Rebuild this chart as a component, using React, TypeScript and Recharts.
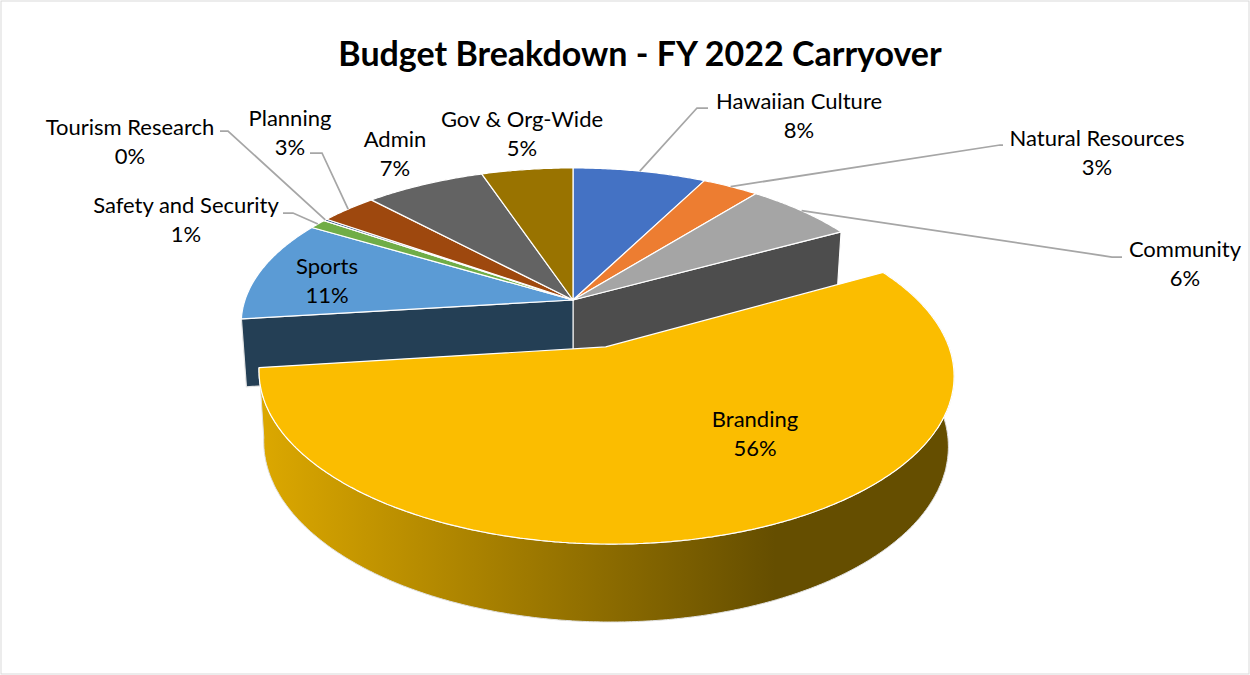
import React from "react";
import { PieChart, Pie } from "recharts";

const categories = [
  "Hawaiian Culture",
  "Natural Resources",
  "Community",
  "Branding",
  "Sports",
  "Safety and Security",
  "Tourism Research",
  "Planning",
  "Admin",
  "Gov & Org-Wide",
];
const carryoverShares = [7.5, 3.2, 6.3, 56.05, 10.55, 1.0, 0.2, 3.25, 6.8, 5.15];
const sliceColors = ["#4472c4", "#ed7d31", "#a5a5a5", "#fbbd00", "#5b9bd5", "#70ad47", "#264478", "#9e480e", "#636363", "#997300"];

const chartData = categories.map((name, i) => ({ name, value: carryoverShares[i], fill: sliceColors[i] }));

// where the text sits, by slice
const labelSpots = [
  [799, 101], [1097, 138], [1185, 249], [755, 419], [327, 266],
  [186, 205], [130, 127], [290, 118], [395, 139], [522, 119],
];
// leader line bends, from the rim outwards
const leaderBends: number[][][] = [
  [[697, 108], [708, 108]],
  [[1000, 145], [1003, 145]],
  [[1112, 257], [1122, 257]],
  [],
  [],
  [[293, 213], [283, 213]],
  [[228, 131], [220, 131]],
  [[322, 153], [310, 153]],
  [],
  [],
];

// look of the fake 3D disc
const TILT = 0.463;
const PERSPECTIVE = 0.15;
const DEPTH = 67;
const EXPLODE = 0.31;
const BOTTOM_SHRINK = 0.985;
const FONT = "Lato, sans-serif";

const explodedIndex = categories.indexOf("Branding");
const total = carryoverShares.reduce((a, b) => a + b, 0);

function place(cx: number, cy: number, r: number, gx: number, gy: number, low = false) {
  const s = 1 / (1 - PERSPECTIVE * gy);
  return [cx + r * gx * s * (low ? BOTTOM_SHRINK : 1), cy + r * TILT * gy * s + (low ? DEPTH * Math.pow(s, 0.7) : 0)];
}

// recharts angle (counter-clockwise from 3 o'clock) to a point on the ground plane
const ground = (angle: number, ox = 0, oy = 0) => {
  const a = (angle * Math.PI) / 180;
  return [Math.cos(a) + ox, -Math.sin(a) + oy];
};

const toPath = (pts: number[][]) => "M" + pts.map((p) => p[0].toFixed(1) + "," + p[1].toFixed(1)).join("L") + "Z";

function SliceShape(props: any) {
  const { cx, cy, outerRadius: r, startAngle, endAngle, fill, index, onlyExploded } = props;
  const isExploded = index === explodedIndex;
  if (isExploded !== !!onlyExploded) return <g />;

  const mid = (startAngle + endAngle) / 2;
  const [ox, oy] = isExploded ? ground(mid).map((v) => v * EXPLODE) : [0, 0];
  const steps = Math.max(2, Math.ceil(Math.abs(startAngle - endAngle) * 2));
  const rim: number[][] = [];
  const rimLow: number[][] = [];
  for (let i = 0; i <= steps; i++) {
    const [gx, gy] = ground(startAngle + ((endAngle - startAngle) * i) / steps, ox, oy);
    rim.push(place(cx, cy, r, gx, gy));
    rimLow.push(place(cx, cy, r, gx, gy, true));
  }
  const apex = place(cx, cy, r, ox, oy);
  const apexLow = place(cx, cy, r, ox, oy, true);

  const name = categories[index];
  return (
    <g>
      {name === "Community" && (
        <path d={toPath([apex, rim[steps], rimLow[steps], apexLow])} fill="#4d4d4d" stroke="#ffffff" strokeWidth={1.2} />
      )}
      {name === "Sports" && (
        <path d={toPath([apex, rim[0], rimLow[0], apexLow])} fill="#243f55" stroke="#e4e4e4" strokeWidth={1.2} />
      )}
      {isExploded && (
        <path d={toPath([...rim, ...rimLow.slice().reverse()])} fill="url(#brandingSide)" stroke="#e0e0e0" strokeWidth={1} />
      )}
      <path d={toPath([apex, ...rim])} fill={fill} stroke="#ffffff" strokeWidth={1.2} strokeLinejoin="round" />
    </g>
  );
}

function renderLabel(props: any) {
  const { index, name, value } = props;
  const [x, y] = labelSpots[index];
  return (
    <text key={index} textAnchor="middle" fontFamily={FONT} fontSize={22} fill="#000000">
      <tspan x={x} y={y + 7.5}>{name}</tspan>
      <tspan x={x} y={y + 36.5}>{Math.round((value / total) * 100)}%</tspan>
    </text>
  );
}

function renderLeader(props: any) {
  const { index, cx, cy, outerRadius, midAngle } = props;
  const bends = leaderBends[index];
  if (!bends.length) return <g key={index} />;
  const [gx, gy] = ground(midAngle);
  const start = place(cx, cy, outerRadius, gx, gy);
  const d = "M" + [start, ...bends].map((p) => p.join(",")).join("L");
  return <path key={index} d={d} fill="none" stroke="#a6a6a6" strokeWidth={1.75} />;
}

export default function App() {
  return (
    <div style={{ position: "absolute", left: 0, top: 0, width: 1250, height: 675, background: "#ffffff" }}>
      <PieChart width={1250} height={675} margin={{ top: 0, right: 0, bottom: 0, left: 0 }}>
        <defs>
          <linearGradient id="brandingSide" gradientUnits="userSpaceOnUse" x1={260} y1={0} x2={775} y2={0}>
            <stop offset="0%" stopColor="#dca800" />
            <stop offset="100%" stopColor="#654e00" />
          </linearGradient>
        </defs>
        <rect x={1} y={1} width={1248} height={673} fill="#ffffff" stroke="#d9d9d9" strokeWidth={1} />
        <text x={640} y={66} textAnchor="middle" fontFamily={FONT} fontWeight={700} fontSize={34} fill="#000000">
          Budget Breakdown - FY 2022 Carryover
        </text>
        <Pie
          data={chartData}
          dataKey="value"
          nameKey="name"
          cx={573}
          cy={300}
          outerRadius={328}
          startAngle={90}
          endAngle={-270}
          isAnimationActive={false}
          label={false}
          labelLine={false}
          shape={(p: any) => <SliceShape {...p} />}
        />
        <Pie
          data={chartData}
          dataKey="value"
          nameKey="name"
          cx={573}
          cy={300}
          outerRadius={328}
          startAngle={90}
          endAngle={-270}
          isAnimationActive={false}
          label={renderLabel}
          labelLine={renderLeader}
          shape={(p: any) => <SliceShape {...p} onlyExploded />}
        />
      </PieChart>
    </div>
  );
}
